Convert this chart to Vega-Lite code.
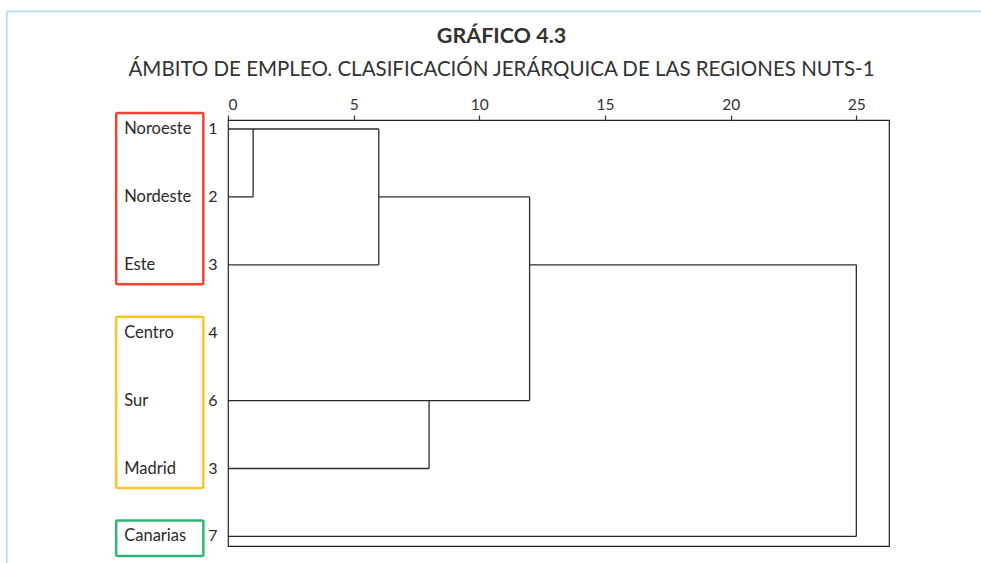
{
  "$schema": "https://vega.github.io/schema/vega-lite/v6.json",
  "width": 661,
  "height": 426,
  "autosize": {"type": "none"},
  "padding": {"left": 228, "top": 120, "right": 92, "bottom": 17},
  "background": "white",
  "config": {
    "view": {"stroke": "#222222", "strokeWidth": 1.2},
    "font": "Lato"
  },
  "title": {
    "text": "GRÁFICO 4.3",
    "subtitle": "ÁMBITO DE EMPLEO. CLASIFICACIÓN JERÁRQUICA DE LAS REGIONES NUTS-1",
    "anchor": "middle",
    "frame": "group",
    "dx": -57,
    "font": "Lato",
    "fontSize": 21.5,
    "fontWeight": "bold",
    "color": "#333333",
    "subtitleFont": "Lato",
    "subtitleFontSize": 20.5,
    "subtitleColor": "#333333",
    "subtitlePadding": 13,
    "offset": -70
  },
  "datasets": {
    "segments": [
      {"x": 0, "x2": 6, "y": 0, "y2": 0},
      {"x": 0, "x2": 1, "y": 1, "y2": 1},
      {"x": 1, "x2": 1, "y": 0, "y2": 1},
      {"x": 6, "x2": 6, "y": 0, "y2": 2},
      {"x": 0, "x2": 6, "y": 2, "y2": 2},
      {"x": 6, "x2": 12, "y": 1, "y2": 1},
      {"x": 12, "x2": 12, "y": 1, "y2": 4},
      {"x": 0, "x2": 12, "y": 4, "y2": 4},
      {"x": 8, "x2": 8, "y": 4, "y2": 5},
      {"x": 0, "x2": 8, "y": 5, "y2": 5},
      {"x": 12, "x2": 25, "y": 2, "y2": 2},
      {"x": 25, "x2": 25, "y": 2, "y2": 6},
      {"x": 0, "x2": 25, "y": 6, "y2": 6}
    ],
    "regions": [
      {"name": "Noroeste", "num": "1", "row": 0},
      {"name": "Nordeste", "num": "2", "row": 1},
      {"name": "Este", "num": "3", "row": 2},
      {"name": "Centro", "num": "4", "row": 3},
      {"name": "Sur", "num": "6", "row": 4},
      {"name": "Madrid", "num": "3", "row": 5},
      {"name": "Canarias", "num": "7", "row": 6}
    ],
    "groups": [
      {"group": "A", "first": 0, "last": 2},
      {"group": "B", "first": 3, "last": 5},
      {"group": "C", "first": 6, "last": 6}
    ],
    "border": [
      {"edge": "frame"}
    ]
  },
  "data": {"name": "segments"},
  "layer": [
    {
      "data": {"name": "segments"},
      "mark": {"type": "rule", "stroke": "#2b2b2b", "strokeWidth": 1.3},
      "encoding": {
        "x": {
          "field": "x",
          "type": "quantitative",
          "scale": {"domain": [0, 26.3], "nice": false, "zero": false},
          "axis": {
            "orient": "top",
            "values": [0, 5, 10, 15, 20, 25],
            "title": null,
            "grid": false,
            "domain": false,
            "tickSize": 5,
            "tickColor": "#333333",
            "tickWidth": 1.2,
            "labelPadding": 3,
            "labelFontSize": 15.5,
            "labelColor": "#333333",
            "labelFont": "Lato"
          }
        },
        "x2": {"field": "x2"},
        "y": {
          "field": "y",
          "type": "quantitative",
          "scale": {"domain": [-0.1325, 6.141], "reverse": true, "nice": false, "zero": false},
          "axis": null
        },
        "y2": {"field": "y2"}
      }
    },
    {
      "data": {"name": "border"},
      "mark": {"type": "rule", "stroke": "#a6dcf5", "strokeWidth": 1.5},
      "encoding": {
        "x": {"datum": -8.8, "type": "quantitative"},
        "x2": {"datum": 30.2},
        "y": {"datum": -1.73, "type": "quantitative"}
      }
    },
    {
      "data": {"name": "border"},
      "mark": {"type": "rule", "stroke": "#a6dcf5", "strokeWidth": 1.5},
      "encoding": {
        "x": {"datum": -8.8, "type": "quantitative"},
        "y": {"datum": -1.73, "type": "quantitative"},
        "y2": {"datum": 6.5}
      }
    },
    {
      "data": {"name": "groups"},
      "mark": {"type": "rect", "filled": false, "strokeWidth": 2.5, "cornerRadius": 1.5, "yOffset": -16, "y2Offset": 19.5},
      "encoding": {
        "x": {"datum": -4.45, "type": "quantitative"},
        "x2": {"datum": -0.98},
        "y": {"field": "first", "type": "quantitative"},
        "y2": {"field": "last"},
        "stroke": {
          "field": "group",
          "type": "nominal",
          "scale": {"domain": ["A", "B", "C"], "range": ["#ee4430", "#fdc22b", "#2fb673"]},
          "legend": null
        }
      }
    },
    {
      "data": {"name": "regions"},
      "mark": {"type": "text", "align": "left", "baseline": "middle", "fontSize": 16.5, "font": "Lato", "color": "#2b2b2b"},
      "encoding": {
        "x": {"datum": -4.13, "type": "quantitative"},
        "y": {"field": "row", "type": "quantitative"},
        "text": {"field": "name"}
      }
    },
    {
      "data": {"name": "regions"},
      "mark": {"type": "text", "align": "center", "baseline": "middle", "fontSize": 16, "font": "Lato", "color": "#2b2b2b"},
      "encoding": {
        "x": {"datum": -0.6, "type": "quantitative"},
        "y": {"field": "row", "type": "quantitative"},
        "text": {"field": "num"}
      }
    }
  ]
}
